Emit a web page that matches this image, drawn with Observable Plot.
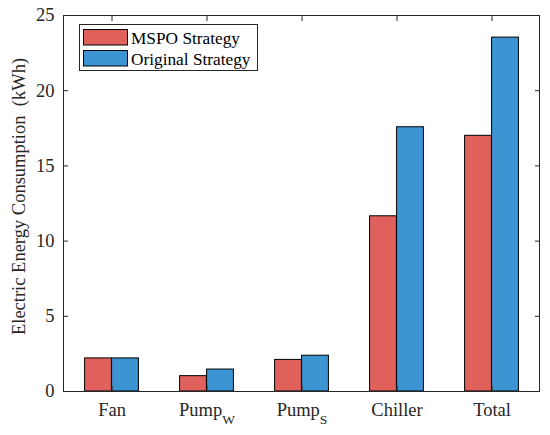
<!DOCTYPE html>
<html>
<head>
<meta charset="utf-8">
<script src="https://cdn.jsdelivr.net/npm/d3@7"></script>
<script src="https://cdn.jsdelivr.net/npm/@observablehq/plot@0.6"></script>
<style>
  html, body { margin: 0; padding: 0; background: #fff; }
  #chart { width: 550px; height: 435px; }
  #chart svg, #chart svg text { font-family: "Liberation Serif", "DejaVu Serif", "Times New Roman", Times, serif !important; }
</style>
</head>
<body>
<div id="chart"></div>
<script>
const categories = ["Fan", "Pump_W", "Pump_S", "Chiller", "Total"];
const mspo = [2.2, 1.02, 2.1, 11.65, 17.0];
const original = [2.2, 1.46, 2.38, 17.57, 23.53];
const seriesNames = ["MSPO Strategy", "Original Strategy"];
const colors = ["#e0615b", "#3d94d3"];
const yTicks = [0, 5, 10, 15, 20, 25];

const rows = categories.flatMap((c, i) => [
  {category: c, series: seriesNames[0], value: mspo[i]},
  {category: c, series: seriesNames[1], value: original[i]}
]);

const W = 550, H = 435;
const mL = 63, mR = 11, mT = 15, mB = 44;
const band = (W - mL - mR) / categories.length;
const barW = 27;
const font = "Liberation Serif, DejaVu Serif, Times New Roman, serif";
const axisColor = "#262626";

const chart = Plot.plot({
  width: W, height: H,
  marginLeft: mL, marginRight: mR, marginTop: mT, marginBottom: mB,
  style: {fontFamily: font, fontSize: "18.5px", color: axisColor, background: "#fff"},
  x: {type: "band", domain: categories, paddingInner: 0, paddingOuter: 0, axis: null},
  y: {domain: [0, 25], axis: null},
  color: {domain: seriesNames, range: colors},
  marks: [
    Plot.barY(rows.filter(d => d.series === seriesNames[0]), {
      x: "category", y: "value", fill: "series", stroke: "#000", strokeWidth: 1,
      insetLeft: band / 2 - barW, insetRight: band / 2
    }),
    Plot.barY(rows.filter(d => d.series === seriesNames[1]), {
      x: "category", y: "value", fill: "series", stroke: "#000", strokeWidth: 1,
      insetLeft: band / 2, insetRight: band / 2 - barW
    }),
    Plot.frame({stroke: axisColor, strokeWidth: 1}),
    // inward ticks
    Plot.axisY({ticks: yTicks, anchor: "left", tickSize: -5, text: null, stroke: axisColor, label: null}),
    Plot.axisY({ticks: yTicks, anchor: "right", tickSize: -5, text: null, stroke: axisColor, label: null}),
    Plot.axisX({anchor: "top", tickSize: -5, text: null, stroke: axisColor, label: null}),
    Plot.axisX({anchor: "bottom", tickSize: -5, text: null, stroke: axisColor, label: null}),
    // labels
    Plot.axisY({ticks: yTicks, anchor: "left", tickSize: 0, tickPadding: 9, fill: axisColor,
      label: "Electric Energy Consumption  (kWh)", labelAnchor: "center", labelArrow: "none", labelOffset: 52}),
    Plot.axisX({anchor: "bottom", tickSize: 0, tickPadding: 11, fill: axisColor, label: null,
      tickFormat: d => d.split("_")[0] + (d.includes("_") ? "|" + d.split("_")[1] : "")})
  ]
});

document.getElementById("chart").appendChild(chart);

// subscripts in x tick labels
d3.select(chart).selectAll("text").each(function() {
  const t = d3.select(this);
  const s = t.text();
  if (s.includes("|")) {
    const [main, sub] = s.split("|");
    t.text(null);
    t.append("tspan").text(main);
    t.append("tspan").attr("dy", "0.6em").attr("font-size", "13.5px").text(sub);
  }
});

// nudge y-axis label slightly upward, as in the reference
d3.select(chart).selectAll('g[aria-label="y-axis label"]').each(function() {
  const g = d3.select(this);
  const tr = g.attr("transform") || "";
  g.attr("transform", "translate(0,-7) " + tr);
});

// legend inside the axes
const svg = d3.select(chart);
const lg = svg.append("g").attr("font-size", "17.3px").attr("text-anchor", "start");
lg.append("rect").attr("x", 79.5).attr("y", 24.5).attr("width", 178).attr("height", 46)
  .attr("fill", "#fff").attr("stroke", axisColor).attr("stroke-width", 1);
seriesNames.forEach((name, i) => {
  const y0 = 29.5 + i * 21;
  lg.append("rect").attr("x", 83.5).attr("y", y0).attr("width", 44).attr("height", 15.5)
    .attr("fill", colors[i]).attr("stroke", "#000").attr("stroke-width", 1);
  lg.append("text").attr("x", 131).attr("y", y0 + 8).attr("dy", "0.35em")
    .attr("fill", "#000").text(name);
});
</script>
</body>
</html>
